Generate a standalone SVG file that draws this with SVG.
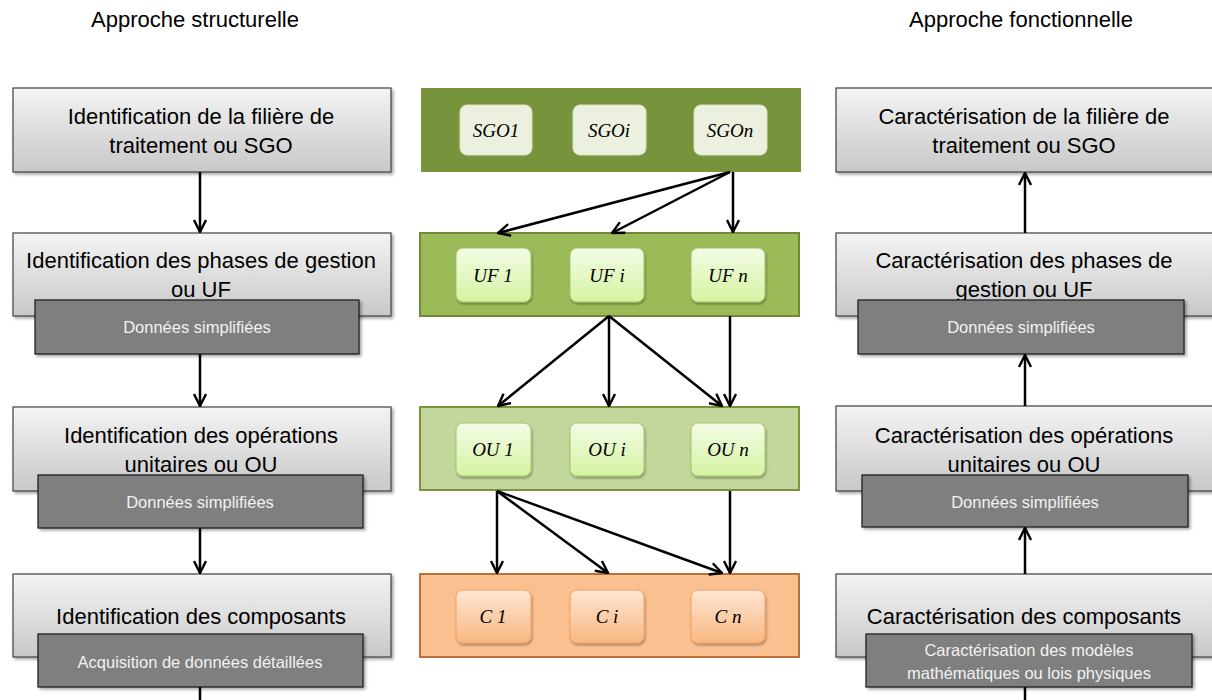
<svg xmlns="http://www.w3.org/2000/svg" width="1212" height="700" viewBox="0 0 1212 700">
<style>
.title{font-family:"Liberation Sans",Arial,sans-serif;font-size:22px;fill:#000;text-anchor:middle}
.box{fill:url(#gray);stroke:#404040;stroke-width:1.2;filter:url(#sh)}
.btxt{font-family:"Liberation Sans",Arial,sans-serif;font-size:22px;fill:#000;text-anchor:middle}
.sub{fill:#7F7F7F;stroke:#1a1a1a;stroke-width:1.2;filter:url(#sh)}
.stxt{font-family:"Liberation Sans",Arial,sans-serif;font-size:16.5px;fill:#F2F2F2;text-anchor:middle}
.itx{font-family:"Liberation Serif",serif;font-style:italic;font-size:19px;fill:#000;text-anchor:middle}
.sgoIn{fill:#EBF1DE;stroke:#D7E4BD;stroke-width:1}
.ufIn{fill:url(#green);stroke:#A6C46C;stroke-width:1;filter:url(#sh2)}
.cIn{fill:url(#orange);stroke:#F5A060;stroke-width:1;filter:url(#sh2)}
.conn{stroke:#000;stroke-width:2.5;fill:none;marker-end:url(#arr)}
.line{stroke:#000;stroke-width:2.5;fill:none}
</style>
<defs>
<linearGradient id="gray" x1="0" y1="0" x2="0" y2="1">
<stop offset="0" stop-color="#F4F4F4"/><stop offset="1" stop-color="#C8C8C8"/>
</linearGradient>
<linearGradient id="green" x1="0" y1="0" x2="0" y2="1">
<stop offset="0" stop-color="#F3FCE6"/><stop offset="1" stop-color="#D5F3A2"/>
</linearGradient>
<linearGradient id="orange" x1="0" y1="0" x2="0" y2="1">
<stop offset="0" stop-color="#FDE6D3"/><stop offset="1" stop-color="#F9B782"/>
</linearGradient>
<filter id="sh" x="-5%" y="-10%" width="112%" height="130%">
<feDropShadow dx="2" dy="2" stdDeviation="1.5" flood-color="#000" flood-opacity="0.35"/>
</filter>
<filter id="sh2" x="-10%" y="-10%" width="125%" height="130%">
<feDropShadow dx="1" dy="2" stdDeviation="1.2" flood-color="#000" flood-opacity="0.3"/>
</filter>
<marker id="arr" viewBox="0 0 14 14" refX="13" refY="7" markerWidth="14" markerHeight="14" markerUnits="userSpaceOnUse" orient="auto">
<path d="M1,1 L13,7 L1,13" fill="none" stroke="#000" stroke-width="2.4"/>
</marker>
</defs>
<rect width="1212" height="700" fill="#fff"/>

<text class="title" x="195" y="27">Approche structurelle</text>
<text class="title" x="1021" y="27">Approche fonctionnelle</text>

<!-- left column -->
<g id="L1">
<rect class="box" x="13" y="88" width="378" height="84"/>
<text class="btxt" x="201" y="124">Identification de la filière de</text>
<text class="btxt" x="201" y="153">traitement ou SGO</text>
</g>
<g id="L2">
<rect class="box" x="13" y="233" width="378" height="83"/>
<text class="btxt" x="201" y="268">Identification des phases de gestion</text>
<text class="btxt" x="201" y="297">ou UF</text>
<rect class="sub" x="35" y="300" width="324" height="54"/>
<text class="stxt" x="197" y="333">Données simplifiées</text>
</g>
<g id="L3">
<rect class="box" x="13" y="407" width="378" height="84"/>
<text class="btxt" x="201" y="443">Identification des opérations</text>
<text class="btxt" x="201" y="472">unitaires ou OU</text>
<rect class="sub" x="38" y="475" width="325" height="53"/>
<text class="stxt" x="200" y="508">Données simplifiées</text>
</g>
<g id="L4">
<rect class="box" x="13" y="574" width="378" height="83"/>
<text class="btxt" x="201" y="624">Identification des composants</text>
<rect class="sub" x="38" y="634" width="325" height="53"/>
<text class="stxt" x="200" y="668">Acquisition de données détaillées</text>
</g>

<!-- right column -->
<g id="R1">
<rect class="box" x="836" y="88" width="378" height="84"/>
<text class="btxt" x="1024" y="124">Caractérisation de la filière de</text>
<text class="btxt" x="1024" y="153">traitement ou SGO</text>
</g>
<g id="R2">
<rect class="box" x="836" y="233" width="378" height="83"/>
<text class="btxt" x="1024" y="268">Caractérisation des phases de</text>
<text class="btxt" x="1024" y="297">gestion ou UF</text>
<rect class="sub" x="858" y="300" width="326" height="54"/>
<text class="stxt" x="1021" y="333">Données simplifiées</text>
</g>
<g id="R3">
<rect class="box" x="836" y="406" width="378" height="85"/>
<text class="btxt" x="1024" y="443">Caractérisation des opérations</text>
<text class="btxt" x="1024" y="472">unitaires ou OU</text>
<rect class="sub" x="862" y="475" width="326" height="52"/>
<text class="stxt" x="1025" y="508">Données simplifiées</text>
</g>
<g id="R4">
<rect class="box" x="836" y="574" width="378" height="83"/>
<text class="btxt" x="1024" y="624">Caractérisation des composants</text>
<rect class="sub" x="866" y="634" width="326" height="53"/>
<text class="stxt" x="1029" y="656">Caractérisation des modèles</text>
<text class="stxt" x="1029" y="679">mathématiques ou lois physiques</text>
</g>

<!-- middle column -->
<g id="SGO">
<rect x="421" y="88" width="380" height="84" fill="#77933C"/>
<rect class="sgoIn" x="460" y="105" width="72" height="50" rx="7"/>
<rect class="sgoIn" x="573" y="105" width="73" height="50" rx="7"/>
<rect class="sgoIn" x="694" y="105" width="73" height="50" rx="7"/>
<text class="itx" x="496" y="137">SGO1</text>
<text class="itx" x="609" y="137">SGOi</text>
<text class="itx" x="730" y="137">SGOn</text>
</g>
<g id="UF">
<rect x="420" y="233" width="379" height="83" fill="#9BBB59" stroke="#6F8A36" stroke-width="2"/>
<rect class="ufIn" x="456" y="248" width="75" height="54" rx="7"/>
<rect class="ufIn" x="570" y="248" width="74" height="54" rx="7"/>
<rect class="ufIn" x="691" y="248" width="74" height="54" rx="7"/>
<text class="itx" x="493" y="282">UF 1</text>
<text class="itx" x="607" y="282">UF i</text>
<text class="itx" x="728" y="282">UF n</text>
</g>
<g id="OU">
<rect x="420" y="407" width="379" height="83" fill="#C3D69B" stroke="#77933C" stroke-width="2"/>
<rect class="ufIn" x="456" y="423" width="75" height="53" rx="7"/>
<rect class="ufIn" x="570" y="423" width="74" height="53" rx="7"/>
<rect class="ufIn" x="691" y="423" width="74" height="53" rx="7"/>
<text class="itx" x="493" y="456">OU 1</text>
<text class="itx" x="607" y="456">OU i</text>
<text class="itx" x="728" y="456">OU n</text>
</g>
<g id="C">
<rect x="420" y="574" width="379" height="83" fill="#FAC090" stroke="#B8713A" stroke-width="2"/>
<rect class="cIn" x="456" y="590" width="75" height="53" rx="7"/>
<rect class="cIn" x="570" y="590" width="74" height="53" rx="7"/>
<rect class="cIn" x="691" y="590" width="74" height="53" rx="7"/>
<text class="itx" x="493" y="623">C 1</text>
<text class="itx" x="607" y="623">C i</text>
<text class="itx" x="728" y="623">C n</text>
</g>

<!-- connectors -->
<g id="connectors">
<line class="conn" x1="200" y1="172" x2="200" y2="232"/>
<line class="conn" x1="200" y1="354" x2="200" y2="406"/>
<line class="conn" x1="200" y1="528" x2="200" y2="573"/>
<line class="line" x1="200" y1="687" x2="200" y2="700"/>

<line class="conn" x1="1025" y1="233" x2="1025" y2="173"/>
<line class="conn" x1="1025" y1="406" x2="1025" y2="355"/>
<line class="conn" x1="1025" y1="574" x2="1025" y2="528"/>
<line class="line" x1="1025" y1="700" x2="1025" y2="687"/>

<line class="conn" x1="730" y1="172" x2="498" y2="233"/>
<line class="conn" x1="730" y1="172" x2="612" y2="233"/>
<line class="conn" x1="733" y1="172" x2="733" y2="232"/>

<line class="conn" x1="609" y1="316" x2="498" y2="406"/>
<line class="conn" x1="609" y1="316" x2="609" y2="406"/>
<line class="conn" x1="609" y1="316" x2="722" y2="406"/>
<line class="conn" x1="730" y1="316" x2="730" y2="406"/>

<line class="conn" x1="497" y1="491" x2="497" y2="573"/>
<line class="conn" x1="497" y1="491" x2="608" y2="573"/>
<line class="conn" x1="497" y1="491" x2="722" y2="573"/>
<line class="conn" x1="730" y1="491" x2="730" y2="573"/>
</g>
</svg>
